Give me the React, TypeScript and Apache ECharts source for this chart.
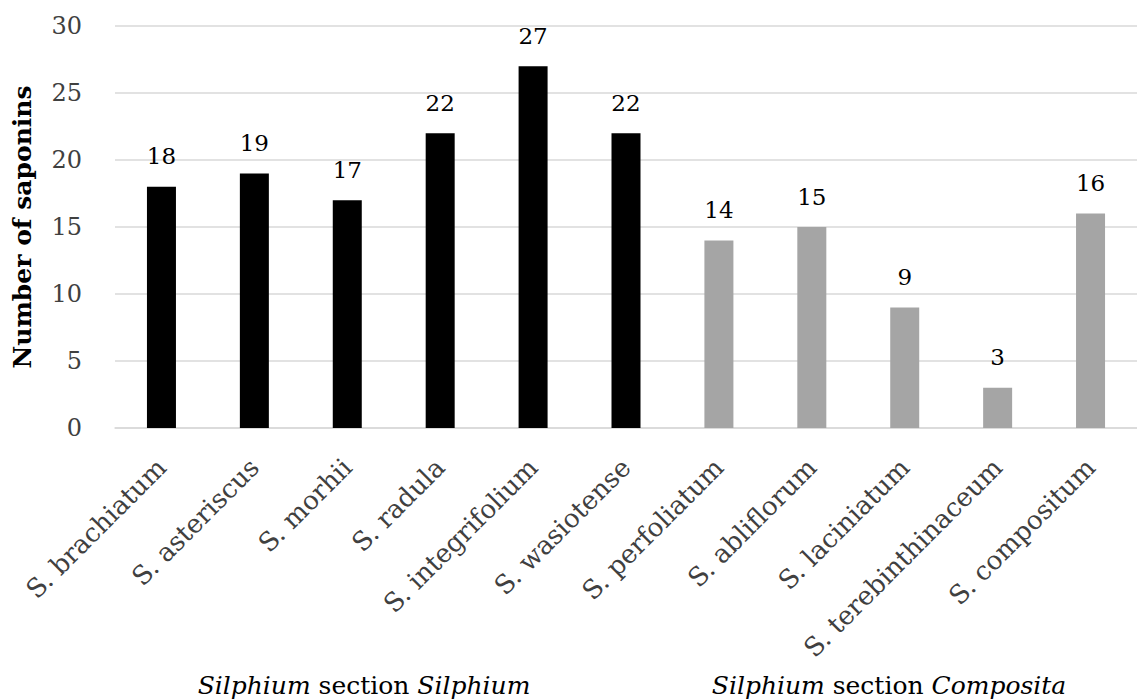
import React, { useEffect, useRef } from "react";
import * as echarts from "echarts";

const categories = [
  "S. brachiatum",
  "S. asteriscus",
  "S. morhii",
  "S. radula",
  "S. integrifolium",
  "S. wasiotense",
  "S. perfoliatum",
  "S. abliflorum",
  "S. laciniatum",
  "S. terebinthinaceum",
  "S. compositum",
];
const values = [18, 19, 17, 22, 27, 22, 14, 15, 9, 3, 16];
const sectionOf = [0, 0, 0, 0, 0, 0, 1, 1, 1, 1, 1];
const sectionColors = ["#000000", "#a5a5a5"];
const groupLabels = [
  "{i|Silphium} section {i|Silphium}",
  "{i|Silphium} section {i|Composita}",
];

const FONT = "'DejaVu Serif', 'Liberation Serif', serif";

export default function App() {
  const ref = useRef<HTMLDivElement>(null);
  useEffect(() => {
    if (!ref.current) return;
    const chart = echarts.init(ref.current, null, { renderer: "svg" });
    chart.setOption({
      animation: false,
      textStyle: { fontFamily: FONT },
      grid: { left: 115, top: 26, width: 1027, height: 402, containLabel: false },
      xAxis: {
        type: "category",
        data: categories,
        axisLine: { show: true, lineStyle: { color: "#d9d9d9", width: 1.5 } },
        axisTick: { show: false },
        axisLabel: {
          rotate: 45,
          interval: 0,
          margin: 35,
          color: "#404040",
          fontSize: 26,
          fontFamily: FONT,
        },
      },
      yAxis: {
        type: "value",
        min: 0,
        max: 30,
        interval: 5,
        name: "Number of saponins",
        nameLocation: "middle",
        nameGap: 80,
        nameTextStyle: { fontSize: 25, fontWeight: "bold", color: "#000", fontFamily: FONT },
        axisLine: { show: false },
        axisTick: { show: false },
        axisLabel: { color: "#404040", fontSize: 24, margin: 33, fontFamily: FONT },
        splitLine: { lineStyle: { color: "#d9d9d9", width: 1.5 } },
      },
      series: [
        {
          type: "bar",
          barWidth: 29,
          data: values.map((v, i) => ({
            value: v,
            itemStyle: { color: sectionColors[sectionOf[i]] },
          })),
          label: {
            show: true,
            position: "top",
            distance: 19,
            color: "#000",
            fontSize: 23,
            fontFamily: FONT,
          },
        },
      ],
      graphic: [
        {
          type: "text",
          x: 364,
          y: 685,
          style: {
            text: groupLabels[0],
            fontSize: 25,
            fontFamily: FONT,
            fill: "#000",
            align: "center",
            verticalAlign: "middle",
            rich: { i: { fontStyle: "italic", fontSize: 25, fontFamily: FONT } },
          },
        },
        {
          type: "text",
          x: 889,
          y: 685,
          style: {
            text: groupLabels[1],
            fontSize: 25,
            fontFamily: FONT,
            fill: "#000",
            align: "center",
            verticalAlign: "middle",
            rich: { i: { fontStyle: "italic", fontSize: 25, fontFamily: FONT } },
          },
        },
      ],
    });
    return () => chart.dispose();
  }, []);
  return (
    <div
      ref={ref}
      style={{ position: "fixed", left: 0, top: 0, width: 1137, height: 699, background: "#fff" }}
    />
  );
}
